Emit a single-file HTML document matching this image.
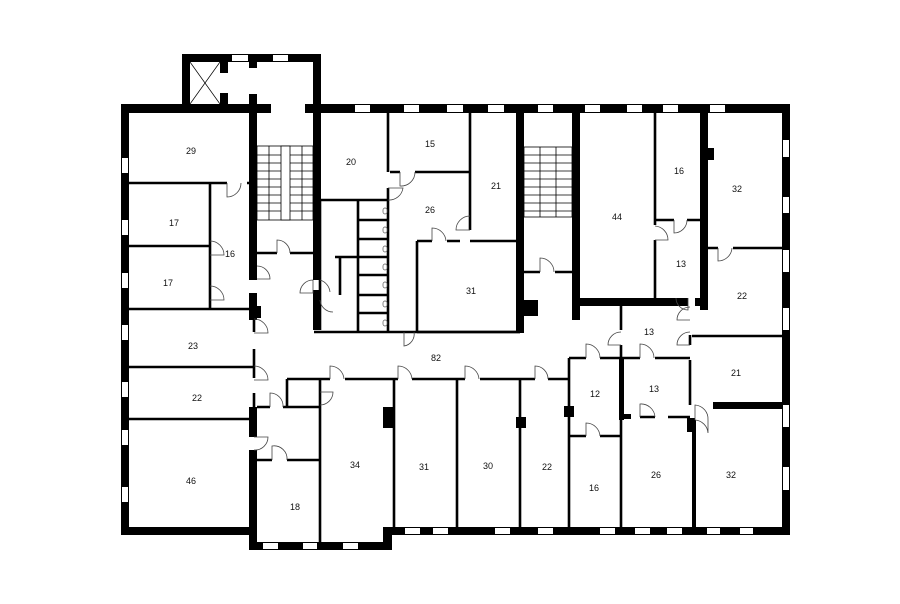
<!DOCTYPE html>
<html><head><meta charset="utf-8"><style>
html,body{margin:0;padding:0;background:#fff;width:900px;height:604px;overflow:hidden}
svg{display:block}
text{font-family:"Liberation Sans",sans-serif;font-size:9px;fill:#111;text-anchor:middle}
</style></head><body>
<svg width="900" height="604" viewBox="0 0 900 604" xmlns="http://www.w3.org/2000/svg">
<rect width="900" height="604" fill="#fff"/>
<g fill="#000">
<rect x="121" y="104" width="8" height="431"/>
<rect x="121" y="104" width="150" height="9"/>
<rect x="305" y="104" width="485" height="9"/>
<rect x="782" y="104" width="8" height="431"/>
<rect x="121" y="527" width="136" height="8"/>
<rect x="249" y="527" width="8" height="23"/>
<rect x="249" y="542" width="143" height="8"/>
<rect x="383" y="527" width="9" height="23"/>
<rect x="383" y="527" width="407" height="8"/>
<rect x="182" y="54" width="139" height="8"/>
<rect x="182" y="54" width="8" height="52"/>
<rect x="313" y="54" width="8" height="226"/>
<rect x="220" y="62" width="8" height="11"/>
<rect x="220" y="93" width="8" height="12"/>
<rect x="249" y="62" width="8" height="6"/>
<rect x="249" y="94" width="8" height="186"/>
<rect x="249" y="293" width="8" height="27"/>
<rect x="249" y="306" width="12" height="12"/>
<rect x="249" y="407" width="8" height="30"/>
<rect x="249" y="450" width="8" height="80"/>
<rect x="313" y="290" width="7" height="40"/>
<rect x="516" y="113" width="8" height="220"/>
<rect x="516" y="300" width="22" height="16"/>
<rect x="572" y="104" width="8" height="216"/>
<rect x="572" y="298" width="116" height="8"/>
<rect x="695" y="298" width="12" height="8"/>
<rect x="700" y="104" width="8" height="206"/>
<rect x="706" y="148" width="8" height="12"/>
<rect x="713" y="402" width="69" height="7"/>
<rect x="619" y="358" width="5" height="62"/>
<rect x="619" y="414" width="12" height="5"/>
<rect x="687" y="418" width="8" height="14"/>
<rect x="692" y="420" width="4" height="107"/>
<rect x="383" y="407" width="12" height="21"/>
<rect x="516" y="417" width="10" height="11"/>
<rect x="564" y="406" width="10" height="11"/>
</g>
<g fill="#fff">
<rect x="122" y="158" width="6" height="15"/><rect x="122" y="220" width="6" height="15"/><rect x="122" y="273" width="6" height="15"/>
<rect x="122" y="325" width="6" height="15"/><rect x="122" y="382" width="6" height="15"/><rect x="122" y="430" width="6" height="15"/><rect x="122" y="487" width="6" height="15"/>
<rect x="232" y="55" width="16" height="6"/><rect x="273" y="55" width="15" height="6"/>
<rect x="355" y="105" width="15" height="7"/><rect x="404" y="105" width="15" height="7"/><rect x="447" y="105" width="16" height="7"/><rect x="488" y="105" width="16" height="7"/>
<rect x="538" y="105" width="15" height="7"/><rect x="585" y="105" width="15" height="7"/><rect x="627" y="105" width="15" height="7"/><rect x="663" y="105" width="15" height="7"/><rect x="710" y="105" width="15" height="7"/>
<rect x="783" y="140" width="6" height="17"/><rect x="783" y="197" width="6" height="16"/><rect x="783" y="250" width="6" height="22"/><rect x="783" y="308" width="6" height="22"/><rect x="783" y="405" width="6" height="22"/><rect x="783" y="467" width="6" height="23"/>
<rect x="538" y="528" width="15" height="6"/><rect x="600" y="528" width="15" height="6"/><rect x="635" y="528" width="15" height="6"/><rect x="667" y="528" width="15" height="6"/><rect x="707" y="528" width="13" height="6"/><rect x="740" y="528" width="13" height="6"/>
<rect x="405" y="528" width="15" height="6"/><rect x="433" y="528" width="15" height="6"/><rect x="495" y="528" width="15" height="6"/>
<rect x="263" y="543" width="15" height="6"/><rect x="303" y="543" width="14" height="6"/><rect x="343" y="543" width="15" height="6"/>
</g>
<g stroke="#000" stroke-width="0.7"><line x1="190" y1="62" x2="220" y2="104"/><line x1="220" y1="62" x2="190" y2="104"/></g>
<g stroke="#000" stroke-width="2.6" fill="none">
<path d="M129 183H227M247 183H250"/>
<path d="M210 183V308"/>
<path d="M129 246H210"/>
<path d="M129 309H250"/>
<path d="M129 367H254M129 419H250"/>
<path d="M254 320V332M254 349V378M254 393V407"/>
<path d="M257 253H277M290 253H313"/>
<path d="M320 200H388M320 200V330M314 332H520"/>
<path d="M358 200V332M335 257H358M340 257V295"/>
<path d="M358 220H388M358 239H388M358 257H388M358 275H388M358 295H388M358 313H388"/>
<path d="M388 113V172M388 188V200M388 200V332"/>
<path d="M390 172H400M415 172H470M470 113V230M470 241H520"/>
<path d="M417 241H432M447 241H460M417 241V332M417 332H520"/>
<path d="M524 272H540M555 272H572"/>
<path d="M655 113V225M655 240V298M655 220H674M687 220H700"/>
<path d="M708 248H718M733 248H782"/>
<path d="M621 306V330M621 345V358M690 335V345M690 360V405"/>
<path d="M692 336H782"/>
<path d="M569 358H586M600 358H640M655 358H690"/>
<path d="M569 358V527M569 436H586M600 436H621M621 420V527"/>
<path d="M640 417H655M668 417H690"/>
<path d="M287 379H330M345 379H398M412 379H465M480 379H535M548 379H569"/>
<path d="M287 379V407M257 407H270M283 407H320M320 379V407M320 392V542"/>
<path d="M257 460H272M287 460H320"/>
<path d="M394 379V527M457 379V527M520 379V527"/>
</g>
<g stroke="#000" stroke-width="0.8" fill="none">
<rect x="257" y="146" width="56" height="74"/>
<rect x="281" y="146" width="9" height="74" fill="#fff"/>
<path d="M257 155H281M257 163H281M257 171H281M257 179H281M257 187H281M257 195H281M257 203H281M257 211H281"/>
<path d="M290 155H313M290 163H313M290 171H313M290 179H313M290 187H313M290 195H313M290 203H313M290 211H313"/>
<path d="M269 146V220M302 146V220"/>
<rect x="524" y="147" width="48" height="70"/>
<path d="M524 155H572M524 163H572M524 171H572M524 179H572M524 187H572M524 195H572M524 203H572M524 211H572M540 147V217M556 147V217"/>
</g>
<g stroke="#444" stroke-width="0.8" fill="none">
<path d="M227 183V197A14 14 0 0 0 241 183"/>
<path d="M210 255H224A14 14 0 0 0 210 241"/>
<path d="M210 300H224A14 14 0 0 0 210 286"/>
<path d="M257 279H270A13 13 0 0 0 257 266"/>
<path d="M254 333H268A14 14 0 0 0 254 319"/>
<path d="M254 380H268A14 14 0 0 0 254 366"/>
<path d="M254 437H268A13 13 0 0 1 254 450"/>
<path d="M277 253V240A13 13 0 0 1 290 253"/>
<path d="M270 407V393A13 13 0 0 1 283 407"/>
<path d="M272 460V446A13 13 0 0 1 287 460"/>
<path d="M330 379V366A14 14 0 0 1 344 379"/>
<path d="M320 392H333A13 13 0 0 1 320 405"/>
<path d="M398 379V366A14 14 0 0 1 412 379"/>
<path d="M465 379V366A14 14 0 0 1 479 379"/>
<path d="M535 379V366A13 13 0 0 1 548 379"/>
<path d="M586 358V344A14 14 0 0 1 600 358"/>
<path d="M640 358V344A14 14 0 0 1 654 358"/>
<path d="M586 436V423A14 14 0 0 1 600 436"/>
<path d="M640 417V404A14 14 0 0 1 655 417"/>
<path d="M621 345H608A13 13 0 0 1 621 332"/>
<path d="M690 345H677A13 13 0 0 1 690 332"/>
<path d="M690 320H677A13 13 0 0 1 690 307"/>
<path d="M695 420V405A14 14 0 0 1 708 420"/>
<path d="M708 420V433A14 14 0 0 0 695 420"/>
<path d="M313 280V293H300A13 13 0 0 1 313 280"/>
<path d="M320 280A14 14 0 0 1 330 292"/>
<path d="M320 300A13 13 0 0 0 333 312"/>
<path d="M388 188H403A14 14 0 0 1 388 200"/>
<path d="M400 172V186A14 14 0 0 0 415 172"/>
<path d="M404 332V346A12 12 0 0 0 414 332"/>
<path d="M432 241V228A14 14 0 0 1 446 241"/>
<path d="M470 230H456A14 14 0 0 1 470 216"/>
<path d="M540 272V258A14 14 0 0 1 554 272"/>
<path d="M655 240H668A14 14 0 0 0 655 226"/>
<path d="M674 220V233A13 13 0 0 0 687 220"/>
<path d="M718 248V261A14 14 0 0 0 732 248"/>
<path d="M688 298V310A12 12 0 0 1 676 298"/>
</g>
<g stroke="#555" stroke-width="0.7" fill="#fff">
<rect x="383" y="208" width="4" height="6" rx="2"/><rect x="383" y="227" width="4" height="6" rx="2"/><rect x="383" y="246" width="4" height="6" rx="2"/>
<rect x="383" y="264" width="4" height="6" rx="2"/><rect x="383" y="282" width="4" height="6" rx="2"/><rect x="383" y="301" width="4" height="6" rx="2"/><rect x="383" y="320" width="4" height="6" rx="2"/>
</g>
<text x="191" y="154">29</text><text x="174" y="226">17</text><text x="230" y="257">16</text><text x="168" y="286">17</text>
<text x="193" y="349">23</text><text x="197" y="401">22</text><text x="191" y="484">46</text><text x="295" y="510">18</text>
<text x="355" y="468">34</text><text x="424" y="470">31</text><text x="488" y="469">30</text><text x="547" y="470">22</text>
<text x="594" y="491">16</text><text x="656" y="478">26</text><text x="731" y="478">32</text>
<text x="595" y="397">12</text><text x="654" y="392">13</text><text x="649" y="335">13</text><text x="736" y="376">21</text>
<text x="742" y="299">22</text><text x="681" y="267">13</text><text x="679" y="174">16</text><text x="737" y="192">32</text>
<text x="617" y="220">44</text><text x="471" y="294">31</text><text x="430" y="213">26</text><text x="496" y="189">21</text>
<text x="430" y="147">15</text><text x="351" y="165">20</text><text x="436" y="361">82</text>
</svg>
</body></html>
